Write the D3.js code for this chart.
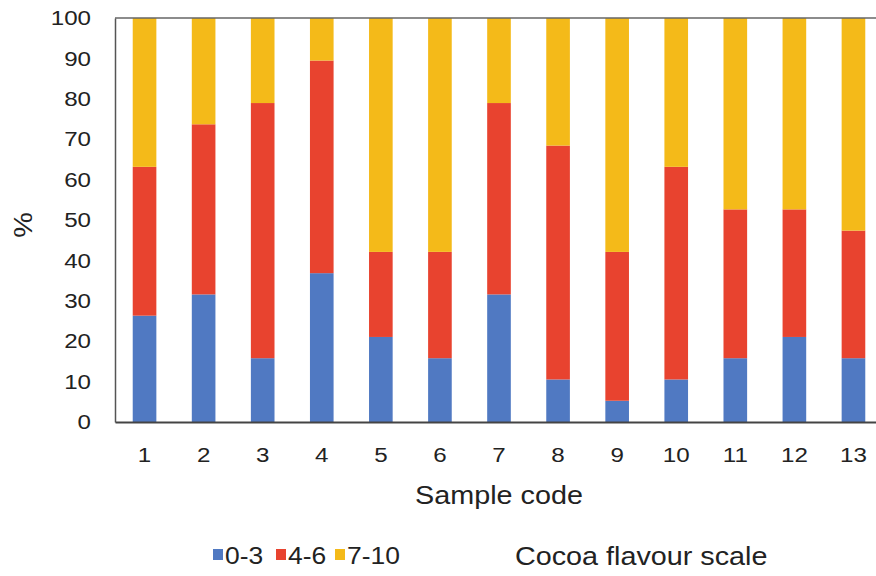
<!DOCTYPE html>
<html><head><meta charset="utf-8">
<script src="https://cdn.jsdelivr.net/npm/d3@7"></script>
<style>body{margin:0;background:#fff}text{font-family:"Liberation Sans",Arial,sans-serif;fill:#222}</style>
</head><body><svg id="c" width="876" height="576"></svg>
<script>
const categories = ["1","2","3","4","5","6","7","8","9","10","11","12","13"];
const seriesNames = ["0-3","4-6","7-10"];
const low = [26.32,31.58,15.79,36.84,21.05,15.79,31.58,10.53,5.26,10.53,15.79,21.05,15.79];
const mid = [36.84,42.11,63.16,52.63,21.05,26.32,47.37,57.89,36.84,52.63,36.84,31.58,31.58];
const high = [36.84,26.32,21.05,10.53,57.89,57.89,21.05,31.58,57.89,36.84,47.37,47.37,52.63];
const yTicks = [0,10,20,30,40,50,60,70,80,90,100];
const colors = ["#5079c2","#e8432f","#f4ba19"];
const SX = 1.15;

const svg = d3.select("#c");
const L=115, T=18, B=422, R=883;
const rows = categories.map((c,i)=>({cat:c,"0-3":low[i],"4-6":mid[i],"7-10":high[i]}));
const stack = d3.stack().keys(seriesNames)(rows);
const x = d3.scaleBand().domain(categories).range([L,R]).paddingInner(0.6).paddingOuter(0.3);
const y = d3.scaleLinear().domain([0,100]).range([B,T]);

svg.append("g").selectAll("g").data(stack).join("g").attr("fill",(d,i)=>colors[i])
  .selectAll("rect").data(d=>d).join("rect")
  .attr("x",d=>x(d.data.cat)).attr("width",x.bandwidth())
  .attr("y",d=>y(Math.min(100,d[1]))).attr("height",d=>y(d[0])-y(Math.min(100,d[1])));

svg.append("line").attr("x1",L).attr("x2",R).attr("y1",T).attr("y2",T).attr("stroke","#666").attr("stroke-width",1.5);
const yAxis = svg.append("g").attr("transform",`translate(${L},0)`)
  .call(d3.axisLeft(y).tickValues(yTicks).tickSize(0).tickPadding(24));
yAxis.select(".domain").attr("stroke","#555").attr("stroke-width",1.5);
yAxis.selectAll(".tick text").style("font-size","21px").attr("fill","#222")
  .attr("x",-24/SX).attr("transform",`scale(${SX},1)`);
const xAxis = svg.append("g").attr("transform",`translate(0,${B})`)
  .call(d3.axisBottom(x).tickSize(0).tickPadding(25));
xAxis.select(".domain").attr("stroke","#444").attr("stroke-width",2);
xAxis.selectAll(".tick text").style("font-size","21px").attr("fill","#222")
  .attr("transform",`scale(${SX},1)`);

function stext(px,py,str,size,anchor,rot){
  svg.append("text").attr("transform",`translate(${px},${py})${rot?` rotate(${rot})`:""} scale(${SX},1)`)
    .attr("text-anchor",anchor||"start").style("font-size",size+"px").text(str);
}
stext(499,504,"Sample code",25,"middle");
stext(32,225,"%",25,"middle",-90);

const lx=[213,276,335];
seriesNames.forEach((s,i)=>{
  svg.append("rect").attr("x",lx[i]).attr("y",549).attr("width",10).attr("height",11).attr("fill",colors[i]);
  stext(lx[i]+12,564,s,23);
});
stext(515,565,"Cocoa flavour scale",25);
</script></body></html>
